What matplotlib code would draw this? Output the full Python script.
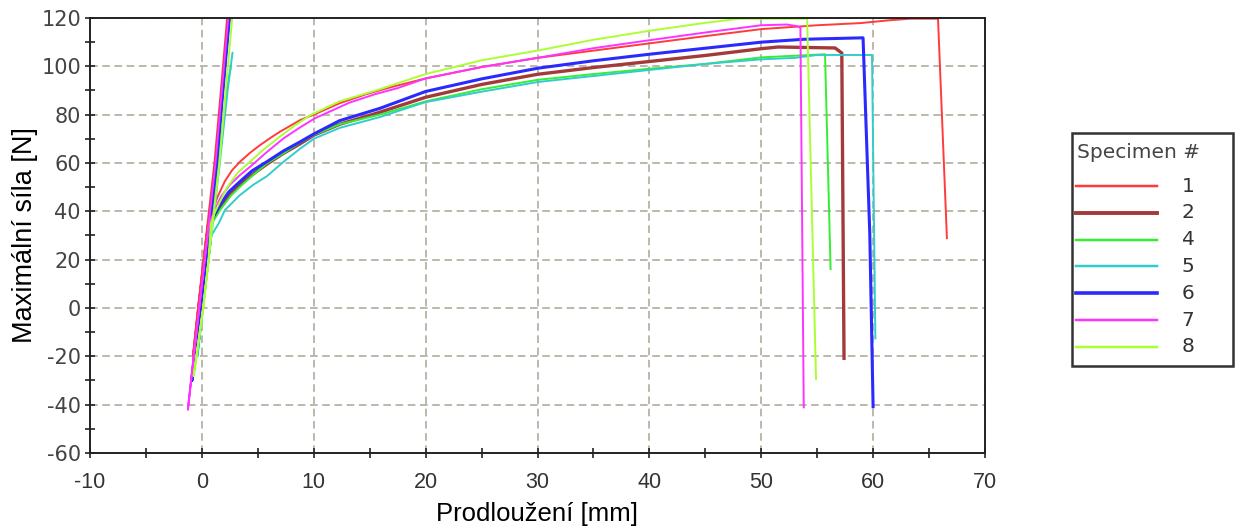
import matplotlib
matplotlib.use("Agg")
import matplotlib.pyplot as plt
from matplotlib.ticker import MultipleLocator
from matplotlib.lines import Line2D
from matplotlib.patches import Rectangle

plt.rcParams["axes.unicode_minus"] = False

labels = ["1", "2", "4", "5", "6", "7", "8"]
colors = ["#ff3b3b", "#a33a3a", "#33ee33", "#33cccc", "#2a2aff", "#ff33ff", "#aaff33"]
widths = [1.4, 2.4, 1.4, 1.4, 2.2, 1.4, 1.4]

# Specimen 1
x1 = [2.25, 1.7, 1.12, 0.63, 0.15, -0.34, -0.8, -0.34, 0.15, 0.55, 1.0, 1.4, 2.06, 2.7, 3.4, 4.3, 5.2, 6.1, 7.0, 8.8, 10, 12.3, 14.7, 17, 20, 25, 30, 35, 40, 45, 50, 55, 58.9, 61.3, 63.3, 65.8, 66.6]
y1 = [119.7, 90, 60, 40, 20, 0, -20, 0, 20, 35, 40.7, 46, 52.5, 57, 60.5, 64.2, 67.4, 70.3, 73, 77.8, 80, 84.7, 88.5, 91.5, 95, 99.7, 103.5, 106.5, 109.5, 112.5, 115.4, 117, 117.9, 119, 119.7, 119.7, 28.5]
# Specimen 2
x2 = [2.4, 1.83, 1.27, 0.78, 0.3, -0.19, -0.55, -0.19, 0.3, 0.7, 1.7, 2.5, 3.5, 4.6, 5.8, 7.3, 8.8, 10, 12.3, 15.9, 20, 25, 30, 35, 40, 45, 50, 51.5, 56.6, 57.2, 57.4]
y2 = [119.7, 90, 60, 40, 20, 0, -15, 0, 20, 35, 42, 47.5, 51.5, 55.5, 59.5, 64, 68, 71.5, 76, 81, 87.2, 92.5, 96.7, 99.5, 102, 104.5, 107.3, 108, 107.6, 105.5, -21.5]
# Specimen 4
x4 = [2.6, 2.2, 1.45, 0.95, 0.45, -0.05, -0.65, -0.05, 0.45, 0.75, 1.7, 2.6, 3.6, 4.7, 5.8, 7.3, 8.8, 10, 12.3, 15.9, 20, 25, 30, 35, 40, 45, 50, 55.7, 56.2]
y4 = [100, 90, 60, 40, 20, 0, -25, 0, 20, 34, 41, 46.5, 51, 55.5, 59.8, 64, 68.5, 71.6, 76, 80, 85.5, 90.5, 94.4, 96.8, 99, 101, 103.7, 105, 15.7]
# Specimen 5
x5 = [2.75, 2.3, 1.6, 1.1, 0.6, 0.1, -0.4, 0.1, 0.6, 0.85, 1.5, 2.06, 3.4, 4.6, 5.8, 7.3, 8.8, 10, 12.3, 15.9, 20, 25, 30, 35, 40, 45, 50, 53, 55, 59.9, 60.2]
y5 = [106, 90, 60, 40, 20, 0, -20, 0, 20, 30, 35, 40.5, 46.7, 51, 54.5, 60.5, 66, 70, 74.5, 79, 85.2, 89.5, 93.5, 96, 98.5, 101, 102.9, 103.5, 104.7, 104.7, -13]
# Specimen 6
x6 = [2.45, 1.88, 1.32, 0.83, 0.35, -0.14, -0.9, -0.14, 0.35, 0.7, 1.6, 2.4, 3.4, 4.5, 5.8, 7.3, 8.8, 10, 12.3, 15.9, 20, 25, 30, 35, 40, 45, 50, 53.8, 59.1, 59.7, 60.0]
y6 = [119.7, 90, 60, 40, 20, 0, -30, 0, 20, 35, 42.6, 48, 52.3, 56.8, 60.5, 65, 68.8, 72, 77.5, 82.6, 89.6, 94.8, 99.2, 102.3, 105, 107.5, 110, 111.2, 111.8, 31, -41.5]
# Specimen 7
x7 = [2.35, 1.78, 1.22, 0.73, 0.25, -0.24, -0.73, -1.25, -0.73, -0.24, 0.25, 0.65, 1.1, 1.7, 2.5, 3.4, 4.3, 5.8, 7.3, 8.7, 10.1, 13.2, 15.5, 17.5, 20, 25, 30, 35, 40, 45, 50, 52.3, 53.2, 53.5, 53.8]
y7 = [119.7, 90, 60, 40, 20, 0, -20, -42, -20, 0, 20, 35, 40, 46, 51, 55, 58.4, 64.5, 70.2, 74.5, 78.5, 85, 88.5, 91, 95, 99.7, 103.5, 107.5, 110.8, 114, 117, 117.3, 116.6, 116, -41.5]
# Specimen 8
x8 = [2.7, 2.13, 1.57, 1.08, 0.6, 0.11, -0.73, 0.11, 0.6, 0.8, 1.2, 2.2, 3.2, 4.3, 5.5, 7.0, 8.3, 9.7, 12.3, 15.9, 17.5, 20, 25, 30, 35, 40, 45, 48, 54.1, 54.9]
y8 = [119.7, 90, 60, 40, 20, 0, -28, 0, 20, 35, 40, 49.5, 56, 60.5, 65.5, 71, 75.5, 79.8, 85.5, 90.5, 93, 96.8, 102.5, 106.5, 111, 114.7, 118, 119.7, 119.7, -29.8]

xs = [x1, x2, x4, x5, x6, x7, x8]
ys = [y1, y2, y4, y5, y6, y7, y8]

xticks = list(range(-10, 71, 10))
yticks = list(range(-60, 121, 20))

W, H = 1237, 532
fig = plt.figure(figsize=(W / 100, H / 100), dpi=100)
ax = fig.add_axes([90 / W, 1 - 453 / H, (985 - 90) / W, (453 - 18) / H])

for x, y, c, w, l in zip(xs, ys, colors, widths, labels):
    ax.plot(x, y, color=c, lw=w, label=l, solid_joinstyle="round", solid_capstyle="butt")

ax.set_xlim(-10, 70)
ax.set_ylim(-60, 120)
ax.set_xticks(xticks)
ax.set_yticks(yticks)
ax.xaxis.set_minor_locator(MultipleLocator(5))
ax.yaxis.set_minor_locator(MultipleLocator(10))
ax.grid(True, which="major", color="#aaa595", linestyle=(0, (5, 3)), linewidth=1.1)
ax.set_axisbelow(True)
for s in ax.spines.values():
    s.set_color("#222222")
    s.set_linewidth(1.4)
ax.tick_params(which="both", direction="inout", length=7, width=1.2, color="#222222")
ax.tick_params(axis="y", labelsize=15, labelcolor="#444444", pad=3)
ax.tick_params(axis="x", labelsize=15.5, labelcolor="#333333", pad=10)
for t in ax.get_xticklabels():
    t.set_family("Liberation Sans")

ax.set_xlabel("Prodloužení [mm]", fontsize=18.5, family="Liberation Sans", labelpad=7)
ax.set_ylabel("Maximální síla [N]", fontsize=19.5, family="Liberation Sans", labelpad=2)


def fx(px):
    return px / W


def fy(py):
    return 1 - py / H


# Legend box
fig.add_artist(Rectangle((fx(1072), fy(366)), fx(1233) - fx(1072), fy(133) - fy(366),
                         transform=fig.transFigure, facecolor="white",
                         edgecolor="#333333", linewidth=1.8))
fig.text(fx(1077), fy(153), "Specimen #", fontsize=14.5, color="#444444",
         ha="left", va="center")
for i, (l, c, w) in enumerate(zip(labels, colors, widths)):
    yy = fy(186 + 26.8 * i)
    fig.add_artist(Line2D([fx(1076), fx(1157)], [yy, yy], transform=fig.transFigure,
                          color=c, lw=w + 0.4))
    fig.text(fx(1188), yy, l, fontsize=14.5, color="#333333", ha="center", va="center")

fig.savefig("out.png", dpi=100)
